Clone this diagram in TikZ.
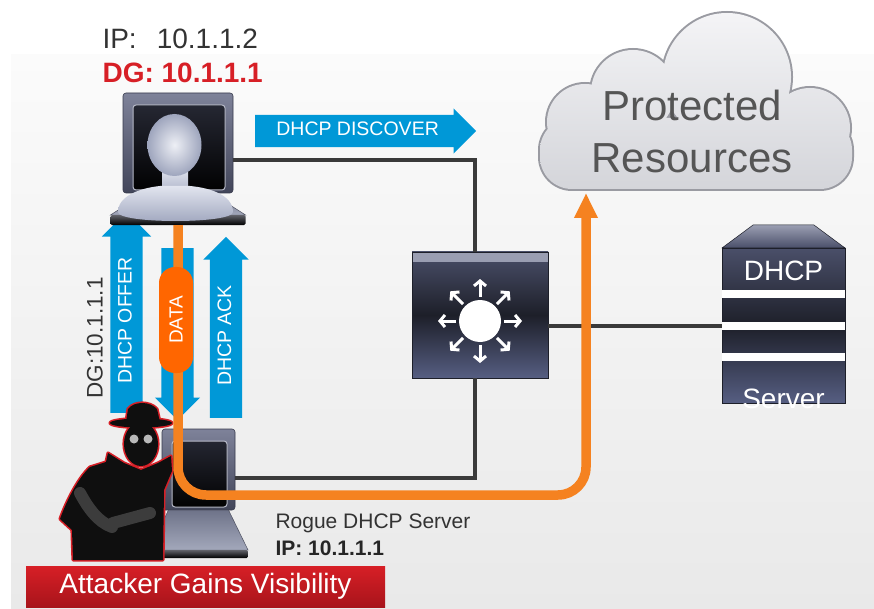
\documentclass[tikz,border=0pt]{standalone}
\usepackage{fontspec}
\setmainfont{Liberation Sans}
\usepackage{xcolor}
\usepackage{tikz}
\usetikzlibrary{arrows.meta, positioning, shapes.arrows, shapes.geometric}

\definecolor{msgblue}{HTML}{0098D7}
\definecolor{flow}{HTML}{F58220}
\definecolor{pillorange}{HTML}{FF6600}
\definecolor{alertred}{HTML}{D71F26}
\definecolor{darkred}{HTML}{A8141B}
\definecolor{wire}{HTML}{3A3A3A}
\definecolor{inktext}{HTML}{333333}
\definecolor{cloudtext}{HTML}{555555}
\definecolor{cloudedge}{HTML}{9A9BA2}
\definecolor{cloudtop}{HTML}{F4F4F6}
\definecolor{cloudbot}{HTML}{D4D5DA}
\definecolor{devtop}{HTML}{4A4F69}
\definecolor{devmid}{HTML}{1D1F29}
\definecolor{devbot}{HTML}{565E82}
\definecolor{lid}{HTML}{9A9EB2}
\definecolor{bezel}{HTML}{5E6380}
\definecolor{kbdtop}{HTML}{6E7389}
\definecolor{kbdbot}{HTML}{A3A8BB}
\definecolor{bustlight}{HTML}{E2E5EF}
\definecolor{bustdark}{HTML}{9EA5BD}
\definecolor{bgtop}{HTML}{FBFBFB}
\definecolor{bgbot}{HTML}{E9E9E9}
\definecolor{spyarm}{HTML}{3C3C3C}

\begin{document}
\begin{tikzpicture}[
  x=1pt, y=-1pt,
  font=\fontsize{20}{24}\selectfont,
  wire/.style={
    draw=wire,
    line width=4pt
  },
  msg/.style={
    single arrow,
    fill=msgblue,
    text=white,
    single arrow head extend=#1,
    single arrow tip angle=90,
    text height=14pt,
    text depth=4pt,
    inner xsep=6pt,
    inner ysep=7pt,
    anchor=tail,
    font=\fontsize{19.5}{20}\selectfont
  },
  msg/.default=6.5pt,
  device/.style={
    rectangle,
    draw=devmid,
    line width=0.6pt,
    top color=devtop,
    bottom color=devbot,
    middle color=devmid,
    inner sep=0pt,
    outer sep=0pt
  },
  screen/.style={
    rectangle,
    rounded corners=3pt,
    top color=bezel!80!white,
    bottom color=bezel!70!black,
    draw=bezel!60!black,
    line width=0.6pt,
    inner sep=0pt,
    outer sep=0pt,
    path picture={
      \fill[top color=bezel!45!black, bottom color=black, draw=lid!70!white, line width=1pt]
        ([shift={(10,12)}]path picture bounding box.north west)
        rectangle ([shift={(-8,-3)}]path picture bounding box.south east);
    }
  },
  kbd/.style={
    trapezium,
    trapezium stretches=true,
    inner sep=1pt,
    outer sep=0pt,
    top color=kbdtop,
    bottom color=kbdbot,
    draw=kbdtop!70!black,
    line width=0.5pt
  },
  kbdedge/.style={
    rectangle,
    rounded corners=1.5pt,
    minimum height=10pt,
    inner sep=0pt,
    outer sep=0pt,
    top color=devmid!70!white,
    bottom color=black
  },
  cloudrim/.style={
    draw=cloudedge,
    line width=4pt
  },
  cloudfill/.style={
    top color=cloudtop,
    bottom color=cloudbot
  },
  bust/.style={
    top color=bustlight,
    bottom color=bustdark
  },
  spoke/.style={
    white,
    line width=3pt,
    -{Straight Barb[length=5pt, width=12pt]}
  },
  flowline/.style={
    draw=flow,
    line width=9.5pt,
    rounded corners=28pt,
    -{Triangle[length=25pt, width=22pt]}
  },
  pill/.style={
    rectangle,
    rounded corners=16pt,
    fill=pillorange,
    text=white,
    minimum width=106pt,
    minimum height=34pt,
    inner sep=0pt,
    rotate=90,
    font=\fontsize{19}{20}\selectfont
  },
  spyrim/.style={
    draw=alertred,
    line width=3.2pt,
    line join=round
  },
  spybody/.style={
    fill=black!94
  },
  arm/.style={
    draw=spyarm,
    line width=12pt,
    line cap=round
  },
  banner/.style={
    rectangle,
    minimum width=359pt,
    minimum height=41pt,
    inner sep=0pt,
    top color=alertred,
    bottom color=darkred,
    text=white,
    font=\fontsize{28}{30}\selectfont
  }
]

\useasboundingbox (0,0) rectangle (874,609);
\fill[white] (0,0) rectangle (874,609);
\shade[top color=bgtop, bottom color=bgbot] (11,55) rectangle (874,609);

% cloud: rim strokes first, the fill covers the inner half
\foreach \layer in {cloudrim, cloudfill} {
  \path[\layer, rounded corners=32pt] (852,118) rectangle (540,189)
    (585,122) circle[radius=38]
    (633,92) circle[radius=42]
    (727,77) circle[radius=64]
    (810,128) circle[radius=40];
}
\node[text=cloudtext, align=center, font=\fontsize{42}{52}\selectfont] (res) at (692,131) {Protected\\Resources};
\coordinate (cloudin) at (586,193);

\node[screen, minimum width=110pt, minimum height=100pt] (pc) at (178,143) {};
\node[device, minimum width=136pt, minimum height=126pt,
  path picture={\fill[lid] (path picture bounding box.north west) rectangle ([yshift=-10pt]path picture bounding box.north east);}] (sw) at (480,315) {};
\node[device, minimum width=123pt, minimum height=155pt] (srv) at (783.5,325.5) {};
\node[screen, minimum width=73pt, minimum height=81pt] (rogue) at (198.5,469.5) {};

% links
\draw[wire] ([yshift=-17pt]pc.east) -| ([xshift=-5pt]sw.north);
\draw[wire] (srv.west) -- (srv.west -| sw.east);
\draw[wire] ([xshift=-5pt]sw.south) |- ([yshift=-8pt]rogue.east);

% switch
\coordinate (hub) at ([yshift=-6pt]sw.center);
\fill[white] (hub) circle[radius=21];
\foreach \a in {0,45,...,315}
  \draw[spoke] ([shift={(\a:24)}]hub) -- ([shift={(\a:42)}]hub);

% dhcp server
\node[kbd, draw=devmid, trapezium left angle=63, trapezium right angle=63,
  minimum width=123pt, minimum height=23pt, top color=lid, bottom color=devtop, above=0pt of srv] (srvtop) {};
\foreach \y in {294,325.5,357}
  \fill[white] (722,\y-4) rectangle (845,\y+4);
\node[text=white, font=\fontsize{28}{30}\selectfont] (srvname) at (783.5,271) {DHCP};
\node[text=white, font=\fontsize{28}{30}\selectfont, anchor=base] (srvrole) at (783.5,408) {Server};

\node[msg, minimum width=45pt, minimum height=221pt] (discover) at (255,131) {DHCP DISCOVER};

% messages between the two hosts
\node[msg=8.5pt, minimum width=49pt, minimum height=201pt, rotate=90] (offer) at (126.5,413) {DHCP OFFER};
\node[msg, minimum width=45pt, minimum height=172pt, rotate=-90] (request) at (177.5,248) {};
\node[msg, minimum width=45pt, minimum height=181pt, rotate=90] (ack) at (226,418) {DHCP ACK};
\node[rotate=90, text=inktext, font=\fontsize{22.5}{24}\selectfont] (offerdg) at (95,338) {DG:10.1.1.1};

% rogue laptop
\node[kbd, trapezium left angle=72, trapezium right angle=72, minimum width=99pt, minimum height=40pt, below=0pt of rogue] (roguebase) {};
\node[kbdedge, minimum width=99pt, minimum height=8pt, below=0pt of roguebase] (rogueedge) {};

% attacker
\foreach \layer in {spyrim, spybody} {
  \path[\layer] (90,467) .. controls (78,478) and (66,502) .. (60,519) -- (72,530) -- (73,560)
    -- (163,560) -- (164,490) -- (172,471) -- (171,456) -- (158,463) -- (141,470)
    -- (124,463) -- (108,453) -- (106,462) -- cycle;
  \path[\layer] (141,444) ellipse[x radius=17, y radius=22];
  \path[\layer] (126,422) -- (128,409) .. controls (134,401) and (150,401) .. (157,409) -- (160,422) -- cycle;
  \path[\layer] (141,423) ellipse[x radius=31, y radius=4.5];
}
\draw[arm] (80,493) .. controls (88,508) and (98,522) .. (112,527);
\draw[arm] (113,523) -- (150,513);
\fill[gray!55] (134,439) circle[radius=4.5] (148,439) circle[radius=4.5];

% user laptop
\node[kbd, trapezium left angle=63, trapezium right angle=63, minimum width=135pt, minimum height=22pt, below=0pt of pc] (pcbase) {};
\node[kbdedge, minimum width=135pt, below=0pt of pcbase] (pcedge) {};
\shade[bust] (162,168) rectangle (188,200);
\shade[bust] (118,212) .. controls (118,196) and (140,188) .. (160,186) -- (190,186)
  .. controls (212,188) and (233,196) .. (233,212) .. controls (233,224) and (118,224) .. (118,212) -- cycle;
\shade[inner color=bustlight!60!white, outer color=bustdark] (174.5,145) ellipse[x radius=27, y radius=31];

\coordinate (bend) at (586,495);
\draw[flowline] (pcedge.south) |- (bend) -- (cloudin);
\node[pill] (data) at (176,320) {DATA};

\node[text=inktext, font=\fontsize{28}{30}\selectfont, anchor=base west] (pcip) at (99,49) {IP:\hspace{20pt}10.1.1.2};
\node[text=alertred, font=\fontsize{28}{30}\selectfont\bfseries, anchor=base west] (pcdg) at (99,83) {DG: 10.1.1.1};
\node[text=inktext, font=\fontsize{21}{24}\selectfont, anchor=base west] (roguename) at (272,528) {Rogue DHCP Server};
\node[text=black!85, font=\fontsize{21}{24}\selectfont\bfseries, anchor=base west] (rogueip) at (272,555) {IP: 10.1.1.1};

\node[banner] (gains) at (205.5,586.5) {Attacker Gains Visibility};

\end{tikzpicture}
\end{document}
